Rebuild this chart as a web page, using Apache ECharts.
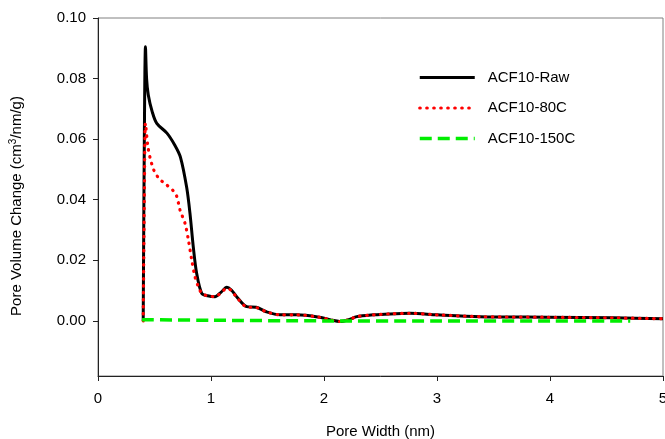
<!DOCTYPE html>
<html>
<head>
<meta charset="utf-8">
<script src="https://cdn.jsdelivr.net/npm/echarts@6/dist/echarts.min.js"></script>
<style>html,body{margin:0;padding:0;background:#fff;}#c{width:665px;height:439px;}</style>
</head>
<body>
<div id="c"></div>
<script>
var seriesNames = ['ACF10-Raw', 'ACF10-80C', 'ACF10-150C'];
var xTicks = [0, 1, 2, 3, 4, 5];
var yTicks = [0, 0.02, 0.04, 0.06, 0.08, 0.10];

var rawX = [0.40, 0.41, 0.42, 0.43, 0.445, 0.48, 0.52, 0.61, 0.68, 0.73, 0.785, 0.814, 0.843, 0.873, 0.918, 0.97, 1.035, 1.09, 1.14, 1.18, 1.227, 1.316, 1.40, 1.49, 1.61, 1.76, 1.96, 2.06, 2.14, 2.22, 2.29, 2.44, 2.58, 2.76, 3.0, 3.38, 3.97, 4.56, 5.0];
var rawY = [0.0, 0.06, 0.0905, 0.080, 0.0746, 0.069, 0.0652, 0.062, 0.058, 0.054, 0.044, 0.0355, 0.0245, 0.0157, 0.0091, 0.0083, 0.0080, 0.0095, 0.0111, 0.0102, 0.0080, 0.0047, 0.0045, 0.0030, 0.0020, 0.0020, 0.0012, 0.0003, -0.0002, 0.0004, 0.0014, 0.0020, 0.0023, 0.0025, 0.0020, 0.0014, 0.0012, 0.0010, 0.0007];

var c80X = [0.40, 0.41, 0.42, 0.44, 0.46, 0.496, 0.54, 0.596, 0.66, 0.696, 0.726, 0.77, 0.80, 0.83, 0.858, 0.888, 0.92, 0.97, 1.035, 1.09, 1.14, 1.18, 1.227, 1.316, 1.40, 1.49, 1.61, 1.76, 1.96, 2.06, 2.14, 2.22, 2.29, 2.44, 2.58, 2.76, 3.0, 3.38, 3.97, 4.56, 5.0];
var c80Y = [0.0, 0.040, 0.0652, 0.058, 0.054, 0.0496, 0.047, 0.0452, 0.0432, 0.0412, 0.0366, 0.0322, 0.0267, 0.0200, 0.0146, 0.0113, 0.0090, 0.0083, 0.0080, 0.0093, 0.0108, 0.0100, 0.0078, 0.0046, 0.0044, 0.0030, 0.0020, 0.0020, 0.0012, 0.0003, -0.0002, 0.0004, 0.0014, 0.0020, 0.0023, 0.0025, 0.0020, 0.0014, 0.0012, 0.0010, 0.0007];

var c150X = [0.39, 1.0, 2.0, 3.0, 4.0, 4.71];
var c150Y = [0.0004, 0.0002, 0.0, 0.0, 0.0, 0.0];

function pairs(xs, ys) { return xs.map(function (x, i) { return [x, ys[i]]; }); }

var chart = echarts.init(document.getElementById('c'));
var font = 'Liberation Sans, Arial, sans-serif';
var fs = 15;
chart.setOption({
  animation: false,
  backgroundColor: '#fff',
  grid: { left: 98, right: 2, top: 18, bottom: 63, show: true, borderColor: '#808080', borderWidth: 1, outerBoundsMode: 'none', containLabel: false },
  legend: {
    orient: 'vertical', left: 418, top: 70, padding: 0,
    itemWidth: 55, itemHeight: 14, itemGap: 15.5,
    data: seriesNames,
    itemStyle: { opacity: 0, borderWidth: 0 },
    lineStyle: { width: 'inherit' },
    textStyle: { fontFamily: font, fontSize: fs, color: '#000', padding: [0, 0, 0, 8] }
  },
  xAxis: {
    type: 'value', min: 0, max: 5, interval: 1,
    name: 'Pore Width (nm)', nameLocation: 'middle', nameGap: 48,
    nameTextStyle: { fontFamily: font, fontSize: fs, color: '#000' },
    axisLine: { onZero: false, lineStyle: { color: '#222', width: 1 } },
    axisTick: { show: true, inside: false, length: 5, lineStyle: { color: '#222' }, customValues: xTicks },
    axisLabel: { fontFamily: font, fontSize: fs, color: '#000', margin: 15, customValues: xTicks },
    splitLine: { show: false }
  },
  yAxis: {
    type: 'value', min: -0.0182, max: 0.1,
    name: '{a|Pore Volume Change (cm}{s|3}{a|/nm/g)}', nameLocation: 'middle', nameGap: 72,
    nameTextStyle: {
      fontFamily: font, fontSize: fs, color: '#000', padding: [0, 18, 0, 0],
      rich: {
        a: { fontFamily: font, fontSize: fs, color: '#000' },
        s: { fontFamily: font, fontSize: 10, color: '#000', padding: [0, 0, 8, 0] }
      }
    },
    axisLine: { show: true, onZero: false, lineStyle: { color: '#222', width: 1 } },
    axisTick: { show: true, inside: false, length: 5, lineStyle: { color: '#222' }, customValues: yTicks },
    axisLabel: {
      fontFamily: font, fontSize: fs, color: '#000', margin: 12, customValues: yTicks,
      formatter: function (v) { return v.toFixed(2); }
    },
    splitLine: { show: false }
  },
  series: [
    {
      name: seriesNames[0], type: 'line', data: pairs(rawX, rawY),
      symbol: 'none', showSymbol: false, smooth: 0.3, z: 3,
      lineStyle: { color: '#000', width: 3, type: 'solid' },
      itemStyle: { color: '#000' }
    },
    {
      name: seriesNames[1], type: 'line', data: pairs(c80X, c80Y),
      symbol: 'none', showSymbol: false, smooth: 0.3, z: 4,
      lineStyle: { color: '#ff0000', width: 3.2, type: [0.5, 6.5], cap: 'round' },
      itemStyle: { color: '#ff0000' }
    },
    {
      name: seriesNames[2], type: 'line', data: pairs(c150X, c150Y),
      symbol: 'none', showSymbol: false, smooth: 0.3, z: 5,
      lineStyle: { color: '#00ee00', width: 3.5, type: [12, 6] },
      itemStyle: { color: '#00ee00' }
    }
  ]
});
</script>
</body>
</html>
